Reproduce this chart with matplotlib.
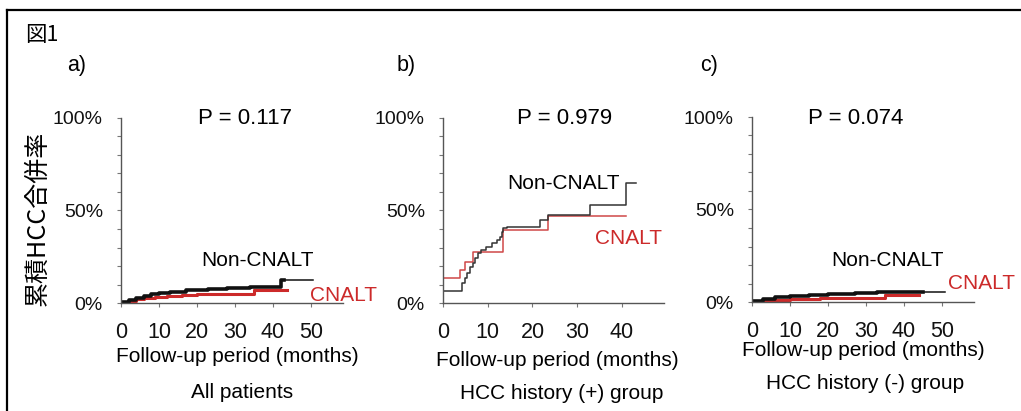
import numpy as np
from matplotlib import pyplot as plt
from matplotlib.lines import Line2D

plt.rcParams['font.family'] = ['Liberation Sans', 'Noto Sans CJK JP']

W, H = 1021, 411

# a) all patients
a_black_t = [0, 2, 4, 6, 8, 10, 13, 17, 20, 23, 28, 34, 42, 50.6]
a_black_y = [0.8, 1.8, 2.8, 3.8, 4.6, 5.2, 5.8, 6.8, 7.2, 7.8, 8.3, 8.8, 12.4, 12.4]
a_red_t = [0, 2, 4, 6, 9, 12, 16, 20, 25, 34.9, 43.6]
a_red_y = [0.4, 1.2, 2.0, 2.8, 3.4, 3.8, 4.3, 4.6, 4.9, 7.0, 7.0]

# b) HCC history (+)
b_black_t = [0, 4.2, 4.9, 5.4, 6.0, 6.7, 7.1, 7.8, 8.5, 9.7, 10.9, 12.0, 12.8, 13.1, 13.5, 14.2,
             21.6, 23.5, 32.8, 41.0, 43.1]
b_black_y = [6.5, 10.6, 13.3, 16.4, 19.6, 21.4, 24.1, 26.8, 28.6, 30.4, 32.2, 34.0, 35.8, 38.5,
             40.3, 41.2, 44.8, 47.5, 52.9, 65.0, 65.0]
b_red_t = [0, 3.8, 4.9, 6.6, 13.5, 23.5, 41.0]
b_red_y = [13.3, 17.8, 22.3, 27.7, 39.5, 47.0, 47.0]

# c) HCC history (-)
c_black_t = [0, 3, 6, 10, 15, 20, 27, 33, 50.8]
c_black_y = [0.5, 1.5, 2.5, 3.2, 3.8, 4.3, 4.8, 5.2, 5.2]
c_red_t = [0, 4, 10, 18, 35, 44]
c_red_y = [0.3, 1.0, 1.5, 2.0, 4.0, 4.0]

yticks = [0, 50, 100]
ytick_labels = ['0%', '50%', '100%']

panels = [
    dict(tag='a)', p='P = 0.117', sub='All patients', xticks=[0, 10, 20, 30, 40, 50],
         box=(121, 343, 303, 118), xmax=58.4,
         black=(a_black_t, a_black_y, 43), red=(a_red_t, a_red_y, 43.6), lw=2.6,
         tagx=67, pxy=(245, 118), noncnalt=(257, 260), cnalt=(310, 295, 'left'),
         xl=(237, 356), sb=(242, 392)),
    dict(tag='b)', p='P = 0.979', sub='HCC history (+) group', xticks=[0, 10, 20, 30, 40],
         box=(443, 664, 303, 118), xmax=49.4,
         black=(b_black_t, b_black_y, 0), red=(b_red_t, b_red_y, 0), lw=1.2,
         tagx=397, pxy=(565, 118), noncnalt=(563, 183), cnalt=(628, 238, 'center'),
         xl=(557, 360), sb=(562, 393)),
    dict(tag='c)', p='P = 0.074', sub='HCC history (-) group', xticks=[0, 10, 20, 30, 40, 50],
         box=(752, 974, 302, 117), xmax=58.4,
         black=(c_black_t, c_black_y, 45), red=(c_red_t, c_red_y, 44), lw=2.6,
         tagx=700, pxy=(856, 118), noncnalt=(887, 260), cnalt=(948, 283, 'left'),
         xl=(863, 351), sb=(865, 383)),
]

fig = plt.figure(figsize=(W / 100, H / 100), dpi=100)


def fx(x):
    return x / W


def fy(y):
    return 1 - y / H


def km(ax, t, y, cut, color, lw):
    # thin full curve, thick overlay where censor marks are dense
    ax.step(t, y, where='post', color=color, lw=1.1)
    if cut > 0:
        tt = [ti for ti in t if ti < cut]
        yy = y[:len(tt)]
        ax.step(tt + [cut], yy + [yy[-1]], where='post', color=color, lw=lw)


red = '#cc2a2a'
for pn in panels:
    x0, x1, y0, y1 = pn['box']
    ax = fig.add_axes([fx(x0), fy(y0), fx(x1 - x0), (y0 - y1) / H])
    ax.set_xlim(0, pn['xmax'])
    ax.set_ylim(0, 100)
    for s in ['top', 'right']:
        ax.spines[s].set_visible(False)
    for s in ['left', 'bottom']:
        ax.spines[s].set_color('#555555')
        ax.spines[s].set_linewidth(1.0)
    ax.set_yticks(yticks)
    ax.set_yticklabels(ytick_labels)
    ax.set_yticks(np.arange(0, 101, 10), minor=True)
    ax.set_xticks(pn['xticks'])
    ax.tick_params(axis='both', which='both', direction='out', length=3, color='#777777',
                   width=0.8, colors='#777777', labelcolor='#111111')
    ax.tick_params(axis='y', pad=10, labelsize=14)
    ax.tick_params(axis='x', pad=11, labelsize=15.5)
    ax.patch.set_alpha(0)

    bt, by, bcut = pn['black']
    rt, ry, rcut = pn['red']
    if pn['lw'] > 1.5:
        km(ax, rt, ry, rcut, red, 2.2)
        km(ax, bt, by, bcut, '#111111', pn['lw'])
    else:
        km(ax, rt, ry, 0, '#d04848', pn['lw'])
        km(ax, bt, by, 0, '#333333', pn['lw'])

    fig.text(fx(pn['tagx']), fy(65), pn['tag'], fontsize=15.5, ha='left', va='center')
    fig.text(fx(pn['pxy'][0]), fy(pn['pxy'][1]), pn['p'], fontsize=16, ha='center', va='center')
    fig.text(fx(pn['noncnalt'][0]), fy(pn['noncnalt'][1]), 'Non-CNALT', fontsize=15,
             ha='center', va='center')
    cx, cy, cha = pn['cnalt']
    fig.text(fx(cx), fy(cy), 'CNALT', fontsize=15, color=red, ha=cha, va='center')
    fig.text(fx(pn['xl'][0]), fy(pn['xl'][1]), 'Follow-up period (months)', fontsize=15,
             ha='center', va='center')
    fig.text(fx(pn['sb'][0]), fy(pn['sb'][1]), pn['sub'], fontsize=15, ha='center', va='center')

fig.text(fx(25), fy(35), '図1', fontsize=15.5, ha='left', va='center',
         family=['Noto Sans CJK JP'])
fig.text(fx(37), fy(218), '累積HCC合併率', fontsize=18, rotation=90, ha='center', va='center',
         family=['Noto Sans CJK JP'])

# outer frame
fig.add_artist(Line2D([fx(7), fx(7)], [fy(10), 0], color='black', lw=1.6))
fig.add_artist(Line2D([fx(7), 1], [fy(10), fy(10)], color='black', lw=1.6))

fig.savefig('out.png', dpi=100)
